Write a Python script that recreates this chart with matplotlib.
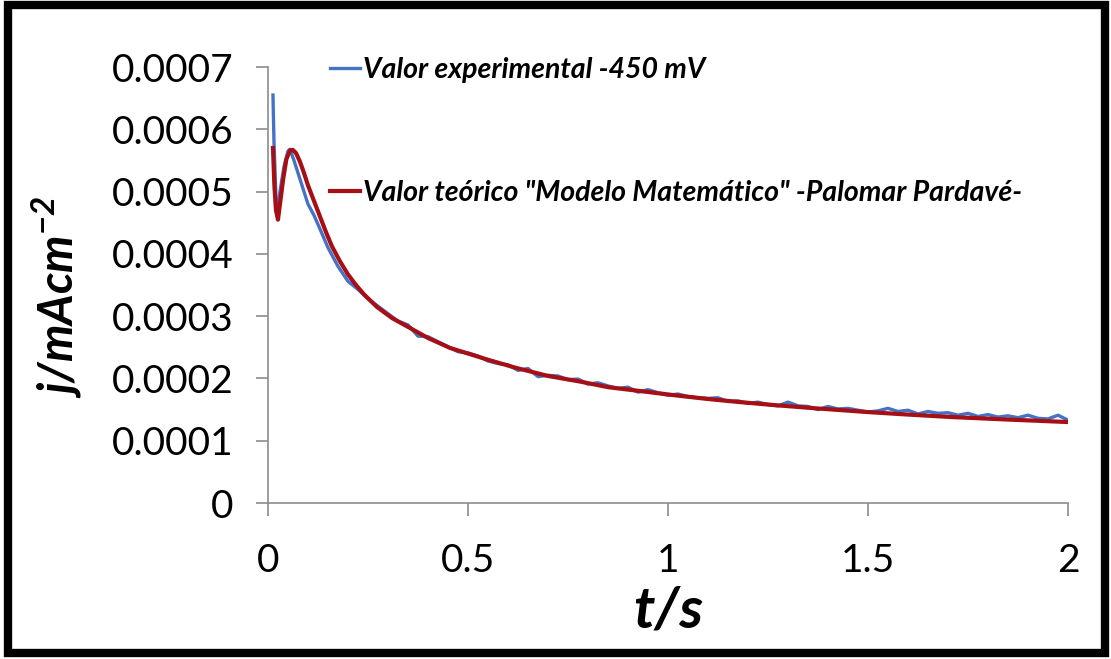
import matplotlib
matplotlib.use("Agg")
import matplotlib.pyplot as plt
from matplotlib.patches import Rectangle

plt.rcParams['font.family'] = ['Lato', 'DejaVu Sans']
plt.rcParams['mathtext.fontset'] = 'custom'
plt.rcParams['mathtext.bf'] = 'Lato:italic:bold'
plt.rcParams['mathtext.it'] = 'Lato:italic:bold'

# ========= data =========
t_exp = [0.0125, 0.015, 0.02, 0.025, 0.03, 0.04, 0.05, 0.055, 0.065, 0.08,
         0.1, 0.115, 0.13, 0.15, 0.175, 0.2,
         0.225, 0.25, 0.275, 0.3, 0.325, 0.35, 0.375, 0.4, 0.425, 0.45,
         0.475, 0.5, 0.525, 0.55, 0.575, 0.6, 0.625, 0.65, 0.675, 0.7,
         0.725, 0.75, 0.775, 0.8, 0.825, 0.85, 0.875, 0.9, 0.925, 0.95,
         0.975, 1.0, 1.025, 1.05, 1.075, 1.1, 1.125, 1.15, 1.175, 1.2,
         1.225, 1.25, 1.275, 1.3, 1.325, 1.35, 1.375, 1.4, 1.425, 1.45,
         1.475, 1.5, 1.525, 1.55, 1.575, 1.6, 1.625, 1.65, 1.675, 1.7,
         1.725, 1.75, 1.775, 1.8, 1.825, 1.85, 1.875, 1.9, 1.925, 1.95,
         1.975, 2.0]
j_exp = [0.000655, 0.00058, 0.00049, 0.00047, 0.0005, 0.00054, 0.000565, 0.000568, 0.00055, 0.00052,
         0.00048, 0.000462, 0.00044, 0.00041, 0.00038, 0.000356,
         0.000343, 0.000328, 0.000316, 0.000304, 0.000292, 0.000286, 0.000268, 0.000267, 0.000259, 0.000251,
         0.000243, 0.000241, 0.000236, 0.000228, 0.000224, 0.000222, 0.000213, 0.000216, 0.000203, 0.000205,
         0.000204, 0.000198, 0.000199, 0.000191, 0.000193, 0.000188, 0.000184, 0.000186, 0.000178, 0.000182,
         0.000177, 0.000173, 0.000175, 0.000171, 0.000169, 0.000168, 0.000169, 0.000163, 0.000164, 0.00016,
         0.000162, 0.000158, 0.000156, 0.000162, 0.000156, 0.000155, 0.00015, 0.000155, 0.000151, 0.000152,
         0.000149, 0.000146, 0.000148, 0.000152, 0.000147, 0.000149, 0.000143, 0.000147, 0.000144, 0.000145,
         0.000141, 0.000144, 0.000139, 0.000142, 0.000138, 0.00014, 0.000137, 0.000141, 0.000136, 0.000135,
         0.000141, 0.000133]

t_teo = [0.0125, 0.016, 0.02, 0.025, 0.03, 0.038, 0.046, 0.055, 0.062, 0.07,
         0.08, 0.09, 0.1, 0.115, 0.13, 0.145, 0.16, 0.18, 0.2, 0.22,
         0.24, 0.272, 0.31, 0.355, 0.4, 0.455, 0.5, 0.55, 0.62, 0.7,
         0.78, 0.85, 0.94, 1.03, 1.1, 1.18, 1.27, 1.37, 1.5, 1.6,
         1.71, 1.85, 2.0]
j_teo = [0.00057, 0.00051, 0.00047, 0.000455, 0.00048, 0.00052, 0.000552, 0.000566, 0.000567, 0.000562,
         0.000548, 0.00053, 0.00051, 0.000485, 0.00046, 0.000435, 0.000412, 0.000388, 0.000367, 0.00035,
         0.000335, 0.000315, 0.000297, 0.000281, 0.000265, 0.000249, 0.00024, 0.00023, 0.000217, 0.000204,
         0.000195, 0.000186, 0.000179, 0.000172, 0.000167, 0.000162, 0.000157, 0.000152, 0.000146, 0.000142,
         0.000138, 0.000134, 0.00013]

x_ticks = [0, 0.5, 1, 1.5, 2]
x_labels = ['0', '0.5', '1', '1.5', '2']
y_ticks = [0, 0.0001, 0.0002, 0.0003, 0.0004, 0.0005, 0.0006, 0.0007]
y_labels = ['0', '0.0001', '0.0002', '0.0003', '0.0004', '0.0005', '0.0006', '0.0007']

lbl_exp = 'Valor experimental -450 mV'
lbl_teo = 'Valor teórico "Modelo Matemático" -Palomar Pardavé-'

# ========= plot =========
fig = plt.figure(figsize=(11.11, 6.59), dpi=100)
ax = fig.add_axes([0.2412, 0.2367, 0.7201, 0.6616])

ax.plot(t_exp, j_exp, color='#4472C4', lw=2.4, label=lbl_exp)
ax.plot(t_teo, j_teo, color='#A50F15', lw=3.0, label=lbl_teo)

ax.set_xlim(0, 2)
ax.set_ylim(0, 0.0007)
ax.set_xticks(x_ticks)
ax.set_xticklabels(x_labels)
ax.set_yticks(y_ticks)
ax.set_yticklabels(y_labels)
ax.tick_params(axis='both', direction='out', length=9, width=1.2, color='#8C8C8C',
               labelsize=28)
ax.tick_params(axis='y', pad=16)
ax.tick_params(axis='x', pad=20)

for s in ['top', 'right']:
    ax.spines[s].set_visible(False)
for s in ['left', 'bottom']:
    ax.spines[s].set_color('#8C8C8C')
    ax.spines[s].set_linewidth(1.2)

ax.set_xlabel('t/s', fontsize=42, fontweight='bold', fontstyle='italic', labelpad=4)
fig.text(0.05, 0.55, r'$\mathbf{j/mAcm^{-2}}$', fontsize=34, rotation=90,
         ha='center', va='center')

ax.legend(loc='upper left', bbox_to_anchor=(0.0775, 1.0235), frameon=False,
          borderaxespad=0, borderpad=0,
          handlelength=1.05, handletextpad=0.12, labelspacing=3.43,
          prop={'size': 20.5, 'weight': 'bold', 'style': 'italic'})

# black frame round the whole picture
fig.patches.append(Rectangle((0.0075, 0.0095), 0.9875, 0.983, transform=fig.transFigure,
                             fill=False, edgecolor='black', lw=6))

plt.savefig('out.png', dpi=100)
